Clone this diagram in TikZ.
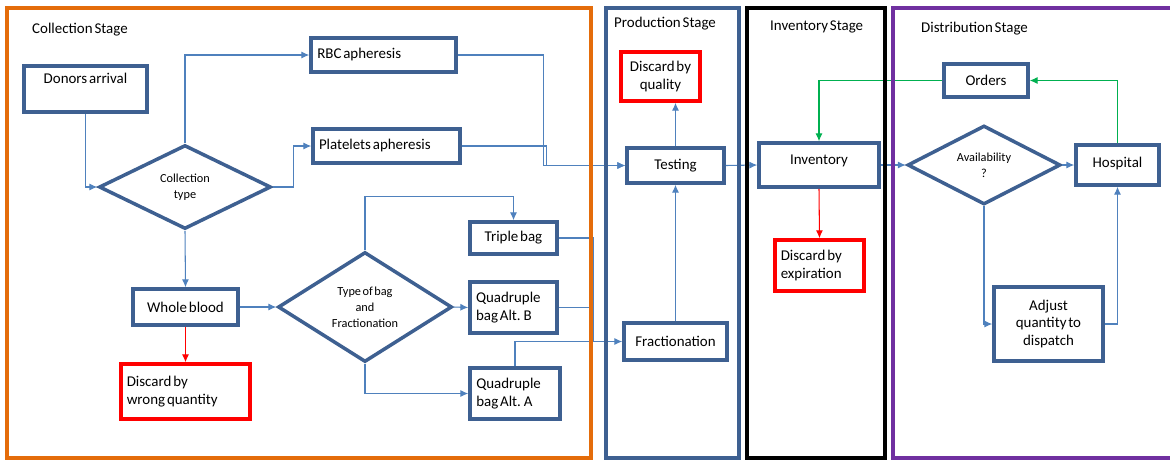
\documentclass[tikz,border=0pt]{standalone}
\usepackage{fontspec}
\setmainfont{Carlito}[WordSpace=0.55]
\usepackage{tikz}
\usetikzlibrary{arrows.meta,shapes.geometric,calc}
\definecolor{boxblue}{RGB}{62,96,145}
\definecolor{lineblue}{RGB}{79,129,189}
\definecolor{stageorange}{RGB}{228,108,10}
\definecolor{stagepurple}{RGB}{112,48,160}
\definecolor{ordergreen}{RGB}{0,176,80}
\tikzset{
  box/.style={rectangle, draw=boxblue, line width=2pt, align=center, inner sep=2pt,
    font=\fontsize{8.5}{10.2}\selectfont},
  discard/.style={box, draw=red},
  decision/.style={diamond, draw=boxblue, line width=2pt, align=center, inner sep=0pt,
    font=\fontsize{7}{9}\selectfont},
  stage/.style={line width=2.2pt},
  title/.style={anchor=west, font=\fontsize{8.5}{10.2}\selectfont},
  connect/.style={-{Latex[length=4.5pt,width=4pt]}, draw=lineblue, line width=0.6pt},
  stop/.style={connect, draw=red},
  order/.style={connect, draw=ordergreen}
}
\begin{document}
\begin{tikzpicture}[x=0.02cm, y=-0.02cm]
  \useasboundingbox (0,0) rectangle (1170,461);

  % collection stage
  \node[box, minimum width=2.46cm, minimum height=0.92cm, text depth=0.42cm] (donors) at (85.5,89) {Donors arrival};
  \node[decision, minimum width=3.44cm, minimum height=1.68cm] (ctype) at (185,187) {Collection\\type};
  \node[box, minimum width=2.9cm, minimum height=0.68cm, text width=2.65cm, align=flush left] (rbc) at (383.5,55) {RBC apheresis};
  \node[box, minimum width=2.94cm, minimum height=0.68cm, text width=2.7cm, align=flush left] (plat) at (386.5,146) {Platelets apheresis};
  \node[box, minimum width=2.1cm, minimum height=0.72cm] (whole) at (185.5,307) {Whole blood};
  \node[discard, minimum width=2.58cm, minimum height=1.1cm, text width=2.35cm, align=flush left] (wrongq) at (185.5,391.5) {Discard by\\wrong quantity};
  \node[decision, minimum width=3.48cm, minimum height=2.2cm] (tbag) at (365,307) {Type of bag\\and\\Fractionation};
  \node[box, minimum width=1.74cm, minimum height=0.64cm] (triple) at (513.5,238) {Triple bag};
  \node[box, minimum width=1.74cm, minimum height=1.02cm, text width=1.5cm, align=flush left] (quadB) at (513.5,307.5) {Quadruple\\bag Alt. B};
  \node[box, minimum width=1.8cm, minimum height=1.02cm, text width=1.55cm, align=flush left] (quadA) at (515,393.5) {Quadruple\\bag Alt. A};
  \coordinate (join) at (593,341.5);

  % production stage
  \node[discard, minimum width=1.58cm, minimum height=0.98cm] (dquality) at (660.5,76.5) {Discard by\\quality};
  \node[box, minimum width=1.94cm, minimum height=0.7cm] (testing) at (675.5,165.5) {Testing};
  \node[box, minimum width=2.06cm, minimum height=0.74cm] (fraction) at (675.5,341.5) {Fractionation};

  % inventory stage
  \node[box, minimum width=2.4cm, minimum height=0.88cm, text depth=0.2cm] (inventory) at (819,165) {Inventory};
  \node[discard, minimum width=1.78cm, minimum height=1.02cm, text width=1.55cm, align=flush left] (dexp) at (819.5,265.5) {Discard by\\expiration};

  % distribution stage
  \node[box, minimum width=1.68cm, minimum height=0.66cm] (orders) at (986,80.5) {Orders};
  \node[decision, minimum width=3.06cm, minimum height=1.58cm] (avail) at (984,165) {Availability\\?};
  \node[box, minimum width=1.66cm, minimum height=0.8cm, text depth=0.1cm] (hospital) at (1117.5,165) {Hospital};
  \node[box, minimum width=2.18cm, minimum height=1.48cm] (adjust) at (1048.5,324) {Adjust\\quantity to\\dispatch};

  % connectors
  \draw[connect] (donors.south) |- (ctype.west);
  \draw[connect] (ctype.north) |- (rbc.west);
  \draw[connect] (ctype.east) -- ++(21,0) |- (plat.west);
  \draw[connect] (ctype.south) -- (whole.north);
  \draw[connect] (whole.east) -- (tbag.west);
  \draw[stop] (whole.south) -- (wrongq.north);
  \draw[connect] (tbag.north) -- ++(0,-54) -| (triple.north);
  \draw[connect] (tbag.east) -- (quadB.west);
  \draw[connect] (tbag.south) |- (quadA.west);
  \draw[connect] (rbc.east) -- ++(86,0) |- (testing.west);
  \draw[connect] (plat.east) -- ++(85,0) |- (testing.west);
  \draw[draw=lineblue, line width=0.6pt] (triple.east) -| (join);
  \draw[draw=lineblue, line width=0.6pt] (quadB.east) -| (join);
  \draw[connect] (quadA.north) |- (fraction.west);
  \draw[connect] (fraction.north) -- (testing.south);
  \draw[connect] (testing.north) -- (testing.north |- dquality.south);
  \draw[connect] (testing.east) -- (inventory.west);
  \draw[stop] (inventory.south) -- (dexp.north);
  \draw[connect] (inventory.east) -- (avail.west);
  \draw[connect] (avail.east) -- (hospital.west);
  \draw[connect] (avail.south) |- (adjust.west);
  \draw[connect] (adjust.east) -| (hospital.south);
  \draw[order] (hospital.north) |- (orders.east);
  \draw[order] (orders.west) -| (inventory.north);

  % stage frames
  \draw[stage, draw=stageorange, line width=2.6pt] (7,8) rectangle (591,458);
  \draw[stage, draw=boxblue] (606,8) rectangle (739,458);
  \draw[stage, draw=black] (747,8) rectangle (885,458);
  \draw[stage, draw=stagepurple] (893,8) rectangle (1190,458);
  \node[title] at (26,30) {Collection Stage};
  \node[title] at (608,24) {Production Stage};
  \node[title] at (764,27) {Inventory Stage};
  \node[title] at (915,29) {Distribution Stage};
\end{tikzpicture}
\end{document}
